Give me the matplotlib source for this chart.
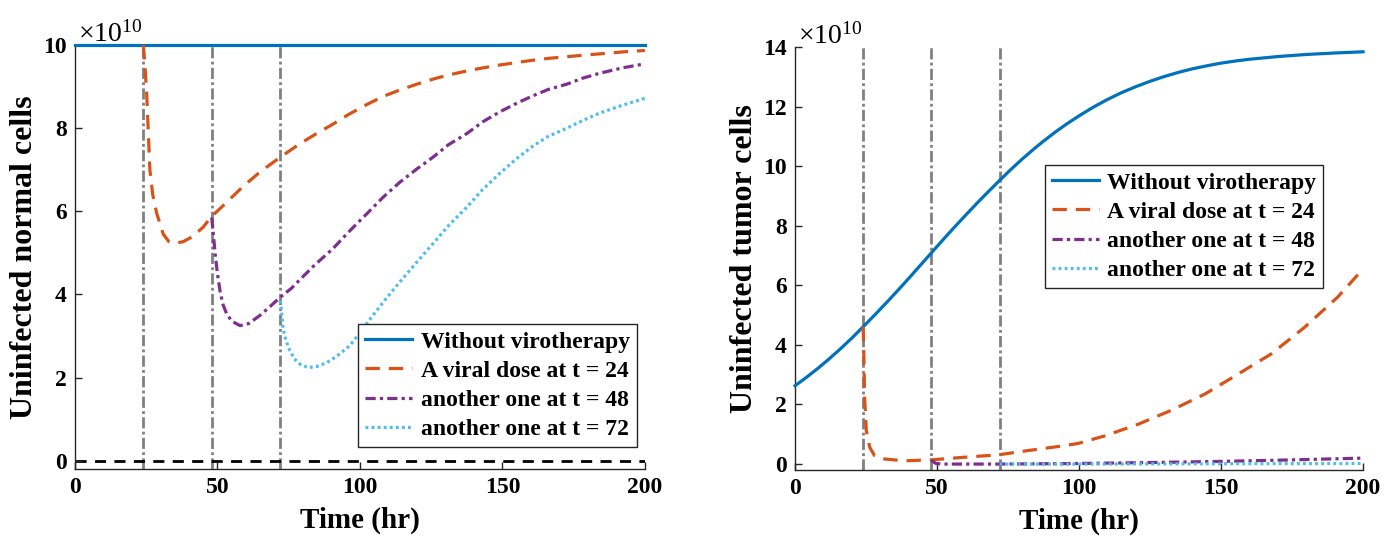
import matplotlib
matplotlib.use("Agg")
import matplotlib.pyplot as plt

plt.rcParams['font.family'] = ['Liberation Serif', 'DejaVu Serif']
plt.rcParams['font.weight'] = 'bold'
plt.rcParams['mathtext.fontset'] = 'custom'
plt.rcParams['mathtext.rm'] = 'Liberation Serif:weight=normal'
plt.rcParams['mathtext.it'] = 'Liberation Serif:style=italic:weight=normal'
plt.rcParams['mathtext.bf'] = 'Liberation Serif:weight=bold'

# values in units of 1e10 cells, time in hours
dose_times = [24, 48, 72]
legend_labels = ['Without virotherapy', 'A viral dose at t = 24',
                 'another one at t = 48', 'another one at t = 72']

# --- normal cells (left) ---
t_n0 = [0, 200]
n0 = [10.0, 10.0]
t_n1 = [24, 24.5, 25.2, 26.3, 27.3, 28.7, 31, 33, 35, 38, 41.5, 45, 48, 53, 59,
        65, 72, 79, 85, 90.6, 96, 102.4, 108, 114, 120, 125.6, 131, 137, 143, 149,
        155, 160, 166, 172.6, 179, 186, 193, 200]
n1 = [10.0, 9.6, 8.8, 7.0, 6.4, 5.95, 5.45, 5.27, 5.23, 5.27, 5.4, 5.62, 5.88, 6.2, 6.6,
      6.95, 7.3, 7.63, 7.88, 8.1, 8.33, 8.57, 8.76, 8.92, 9.06, 9.18, 9.28, 9.37, 9.45,
      9.52, 9.58, 9.63, 9.68, 9.72, 9.76, 9.8, 9.84, 9.87]
t_n2 = [48, 48.5, 49.2, 50, 51, 52, 53.2, 55, 57.9, 61, 65, 68, 72, 76, 79, 84, 90.5,
        96, 102.4, 108, 114, 120, 125.6, 131, 137.5, 143, 149, 155, 160.7, 166, 172.6,
        178, 184, 192, 200]
n2 = [5.85, 5.5, 4.98, 4.5, 4.05, 3.75, 3.54, 3.36, 3.25, 3.3, 3.5, 3.68, 3.93, 4.15,
      4.36, 4.7, 5.1, 5.5, 5.94, 6.33, 6.7, 7.02, 7.3, 7.6, 7.87, 8.15, 8.39, 8.6, 8.78,
      8.93, 9.06, 9.2, 9.32, 9.45, 9.55]
t_n3 = [72, 72.5, 73, 74, 75.4, 77, 79, 81.8, 85, 88.4, 92, 96.5, 102.4, 108, 114,
        120, 125.6, 131, 137.5, 143, 149, 155, 160.7, 166, 172.6, 178, 184, 192, 200]
n3 = [3.85, 3.6, 3.2, 2.9, 2.65, 2.45, 2.32, 2.24, 2.27, 2.36, 2.52, 2.77, 3.3, 3.8,
      4.3, 4.78, 5.22, 5.65, 6.1, 6.52, 6.91, 7.27, 7.57, 7.8, 8.0, 8.18, 8.36, 8.55, 8.72]

# --- tumor cells (right) ---
t_u0 = [0, 4, 8, 12, 16, 20, 24, 28, 32, 36, 40, 44, 48, 52, 56, 60, 64, 68, 72,
        76, 80, 84, 88, 92, 96, 100, 105, 110, 115, 120, 125, 130, 135, 140, 145,
        150, 155, 160, 170, 180, 190, 200]
u0 = [2.63, 2.91, 3.21, 3.53, 3.87, 4.23, 4.61, 5.0, 5.4, 5.81, 6.23, 6.66, 7.09,
      7.52, 7.94, 8.35, 8.75, 9.14, 9.52, 9.89, 10.24, 10.57, 10.88, 11.17, 11.44,
      11.69, 11.98, 12.24, 12.47, 12.67, 12.85, 13.01, 13.15, 13.27, 13.37, 13.46,
      13.53, 13.59, 13.68, 13.75, 13.8, 13.84]
t_u1 = [24, 24.2, 24.5, 25.1, 26.3, 28, 31.5, 38.5, 48, 58.4, 71.6, 81.8, 93.5, 99.6,
        109.2, 120.9, 132.6, 144.3, 149.2, 156, 167.7, 179.4, 191, 200]
u1 = [4.61, 3.8, 2.24, 1.12, 0.56, 0.28, 0.17, 0.11, 0.14, 0.22, 0.31, 0.45, 0.6, 0.69,
      0.95, 1.34, 1.81, 2.35, 2.63, 3.02, 3.7, 4.59, 5.6, 6.55]
t_u2 = [48, 48.8, 49.6, 52, 60, 72, 100, 125, 150, 175, 200]
u2 = [0.14, 0.07, 0.02, 0.0, 0.0, 0.0, 0.02, 0.05, 0.09, 0.14, 0.2]
t_u3 = [72, 100, 150, 200]
u3 = [0.0, 0.0, 0.01, 0.02]

colors = ['#0072BD', '#D95319', '#7E2F8E', '#4DBEEE']
styles = [dict(ls='-'),
          dict(ls=(0, (4.5, 2.8))),
          dict(ls=(0, (3.2, 1.3, 1.0, 1.3))),
          dict(ls=(0, (0.9, 1.0)))]

fig = plt.figure(figsize=(13.98, 5.4), dpi=100)
axL = fig.add_axes([0.0536, 0.1315, 0.4077, 0.785])
axR = fig.add_axes([0.5687, 0.1296, 0.4063, 0.7833])

FS_TICK = 17
FS_XLAB = 21
FS_YLAB = 23


def setup(ax, ymax, yticks, ylabel):
    ax.set_xlim(0, 200)
    ax.set_ylim(-0.2, ymax)
    ax.set_xticks([0, 50, 100, 150, 200])
    ax.set_yticks(yticks)
    for s in ['top', 'right']:
        ax.spines[s].set_visible(False)
    for s in ['left', 'bottom']:
        ax.spines[s].set_color('#262626')
        ax.spines[s].set_linewidth(1.0)
    ax.tick_params(direction='in', length=5, width=1, color='#262626',
                   labelsize=FS_TICK, pad=6)
    for lab in ax.get_xticklabels() + ax.get_yticklabels():
        lab.set_fontweight('bold')
    ax.set_xlabel('Time (hr)', fontsize=FS_XLAB, fontweight='bold', labelpad=6)
    ax.set_ylabel(ylabel, fontsize=FS_YLAB, fontweight='bold', labelpad=3)
    ax.text(0.005, 0.995, r'$\times10^{10}$', transform=ax.transAxes,
            fontsize=20, fontweight='normal', va='bottom', ha='left')
    for td in dose_times:
        ax.axvline(td, color='#808080', lw=2.0, ls=(0, (4, 1.2, 1, 1.2)), zorder=1)


setup(axL, 10, [0, 2, 4, 6, 8, 10], 'Uninfected normal cells')
setup(axR, 14, [0, 2, 4, 6, 8, 10, 12, 14], 'Uninfected tumor cells')

axL.plot([0, 200], [0, 0], color='black', lw=2.0, ls=(0, (4, 3)), zorder=1)

left_series = [(t_n0, n0), (t_n1, n1), (t_n2, n2), (t_n3, n3)]
right_series = [(t_u0, u0), (t_u1, u1), (t_u2, u2), (t_u3, u3)]

for ax, series in [(axL, left_series), (axR, right_series)]:
    for (tt, vv), c, st, lab in zip(series, colors, styles, legend_labels):
        ax.plot(tt, vv, color=c, lw=2.3, label=lab, clip_on=False, zorder=3,
                solid_joinstyle='round', dash_joinstyle='round', **st)

legkw = dict(fontsize=FS_TICK, frameon=True, fancybox=False, edgecolor='#262626',
             framealpha=1, handlelength=2.0, handletextpad=0.35, labelspacing=0.32,
             borderpad=0.3, borderaxespad=0)
legL = axL.legend(loc='lower right', bbox_to_anchor=(0.986, 0.052), **legkw)
legR = axR.legend(loc='upper right', bbox_to_anchor=(0.93, 0.721), **legkw)
for leg in (legL, legR):
    leg.get_frame().set_linewidth(1.0)
    for txt in leg.get_texts():
        txt.set_fontweight('bold')

fig.savefig('out.png', dpi=100)
